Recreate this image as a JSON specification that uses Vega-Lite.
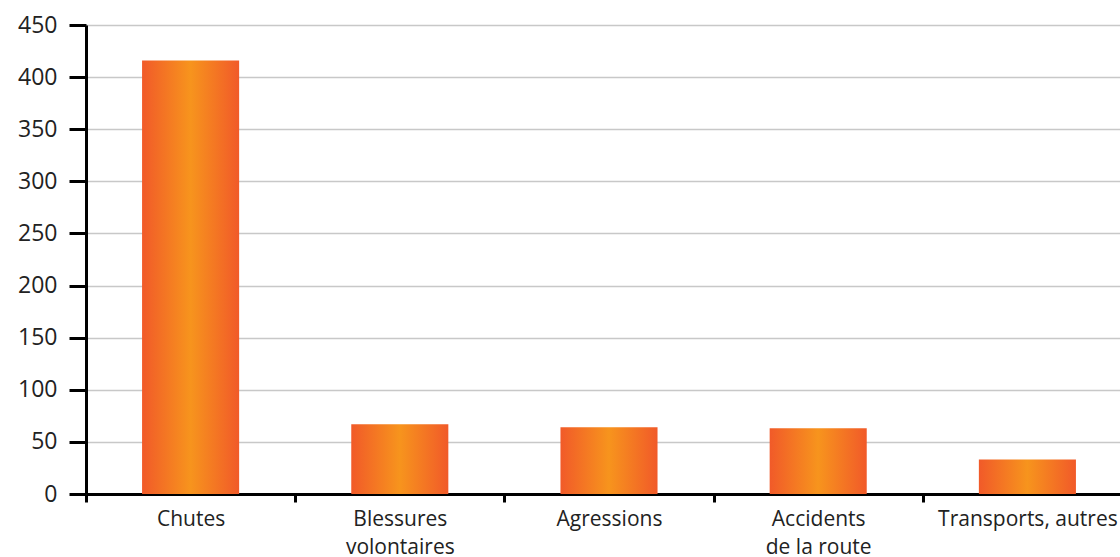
{
  "$schema": "https://vega.github.io/schema/vega-lite/v6.json",
  "width": 1046,
  "height": 469,
  "autosize": "none",
  "padding": {"left": 86, "top": 25, "right": 0, "bottom": 63},
  "background": "white",
  "config": {"view": {"stroke": null}, "font": "Open Sans"},
  "data": {"values": [
    {"cause": "Chutes", "n": 416},
    {"cause": "Blessures volontaires", "n": 67},
    {"cause": "Agressions", "n": 64},
    {"cause": "Accidents de la route", "n": 63},
    {"cause": "Transports, autres", "n": 33}
  ]},
  "mark": {
    "type": "bar",
    "width": {"band": 0.464},
    "color": {
      "gradient": "linear", "x1": 0, "x2": 1, "y1": 0, "y2": 0,
      "stops": [
        {"offset": 0, "color": "#f15a29"},
        {"offset": 0.5, "color": "#f7941d"},
        {"offset": 1, "color": "#f15a29"}
      ]
    }
  },
  "encoding": {
    "x": {
      "field": "cause", "type": "nominal", "sort": null,
      "scale": {"paddingInner": 0, "paddingOuter": 0},
      "axis": {
        "title": null, "labelAngle": 0, "tickBand": "extent",
        "domainColor": "#000", "domainWidth": 3,
        "tickColor": "#000", "tickWidth": 3, "tickSize": 8,
        "labelFontSize": 21, "labelColor": "#222", "labelPadding": 6,
        "labelLineHeight": 28, "labelBaseline": "top",
        "labelExpr": "datum.value == 'Blessures volontaires' ? ['Blessures', 'volontaires'] : datum.value == 'Accidents de la route' ? ['Accidents', 'de la route'] : datum.value"
      }
    },
    "y": {
      "field": "n", "type": "quantitative",
      "scale": {"domain": [0, 450], "nice": false},
      "axis": {
        "title": null, "values": [0, 50, 100, 150, 200, 250, 300, 350, 400, 450],
        "domainColor": "#000", "domainWidth": 3,
        "tickColor": "#000", "tickWidth": 3, "tickSize": 17,
        "gridColor": "#c8c8c8", "gridWidth": 1.5,
        "labelFontSize": 23, "labelColor": "#222", "labelPadding": 12
      }
    }
  }
}
